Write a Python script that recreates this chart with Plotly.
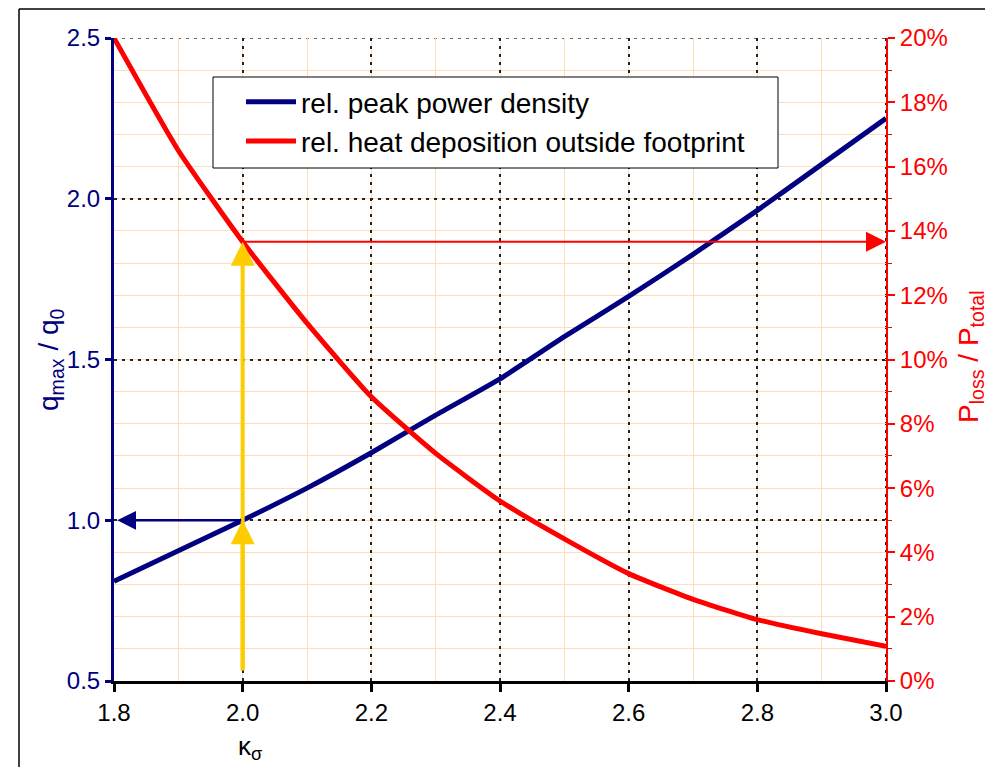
import plotly.graph_objects as go

# ---- data ----
kappa = [1.8, 1.9, 2.0, 2.1, 2.2, 2.3, 2.4, 2.5, 2.6, 2.7, 2.8, 2.9, 3.0]
q_rel = [0.81, 0.905, 1.0, 1.10, 1.21, 1.327, 1.44, 1.571, 1.696, 1.827, 1.964, 2.107, 2.25]
p_loss = [0.200, 0.1650, 0.1366, 0.1113, 0.0884, 0.0708, 0.0560, 0.0442, 0.0334, 0.0254, 0.0191, 0.0147, 0.0108]

name_q = "rel. peak power density"
name_p = "rel. heat deposition outside footprint"
y_ticks_left = [0.5, 1.0, 1.5, 2.0, 2.5]
x_ticks = [1.8, 2.0, 2.2, 2.4, 2.6, 2.8, 3.0]

# construction-line values
kappa_ref = 2.0
q_ref = 1.0
p_ref = 0.1366

NAVY = "#000080"
RED = "#FF0000"
GOLD = "#FFCC00"
MINOR = "#FFDDB8"
GRID = "#222222"
FONT = "Liberation Sans, Arial, sans-serif"

fig = go.Figure()
fig.add_trace(go.Scatter(x=kappa, y=q_rel, name=name_q, mode="lines",
                         line=dict(color=NAVY, width=5, shape="spline", smoothing=0.5)))
fig.add_trace(go.Scatter(x=kappa, y=p_loss, name=name_p, mode="lines", yaxis="y2",
                         line=dict(color=RED, width=5, shape="spline", smoothing=0.5)))

OFF = 8  # page body margin
W, H = 985, 759
L, T = 106, 30
pw, ph = 772, 643
R, B = W - L - pw, H - T - ph


def px(x_page):
    return (x_page - OFF - L) / pw


def py(y_page):
    return (T + ph - (y_page - OFF)) / ph


fig.update_layout(
    width=W, height=H,
    margin=dict(l=L, r=R, t=T, b=B, autoexpand=False),
    paper_bgcolor="white", plot_bgcolor="white",
    font=dict(family=FONT, size=24, color="black"),
    showlegend=True,
    legend=dict(x=px(241), y=py(77), xanchor="left", yanchor="top",
                bgcolor="rgba(0,0,0,0)", borderwidth=0,
                font=dict(size=28, color="black"), itemwidth=50, tracegroupgap=0),
    xaxis=dict(range=[1.8, 3.0], tickvals=x_ticks, tickformat=".1f",
               showline=True, linecolor="black", linewidth=3,
               ticks="outside", ticklen=8, tickwidth=3, tickcolor="black",
               tickfont=dict(size=24, color="black"),
               showgrid=True, gridcolor=GRID, gridwidth=2, griddash="3px,5px",
               minor=dict(dtick=0.1, showgrid=True, gridcolor=MINOR, gridwidth=1, griddash="solid"),
               zeroline=False),
    yaxis=dict(range=[0.5, 2.5], tickvals=y_ticks_left, tickformat=".1f",
               showline=True, linecolor=NAVY, linewidth=3,
               ticks="outside", ticklen=6, tickwidth=3, tickcolor=NAVY,
               tickfont=dict(size=24, color=NAVY),
               showgrid=True, gridcolor=GRID, gridwidth=2, griddash="3px,5px",
               minor=dict(dtick=0.1, showgrid=True, gridcolor=MINOR, gridwidth=1, griddash="solid"),
               zeroline=False),
    yaxis2=dict(range=[0, 0.2], dtick=0.02, tickformat=".0%", overlaying="y", side="right",
                showline=True, linecolor=RED, linewidth=2,
                ticks="outside", ticklen=7, tickwidth=2, tickcolor=RED,
                tickfont=dict(size=24, color=RED),
                minor=dict(dtick=0.01, ticks="outside", ticklen=4, tickcolor=RED, tickwidth=1),
                showgrid=False, zeroline=False),
)

# dotted grid along the top and right edges
fig.add_shape(type="line", xref="x", yref="y", x0=1.8, x1=3.0, y0=2.5, y1=2.5, layer="below",
              line=dict(color="#666666", width=2, dash="3px,5px"))
fig.add_shape(type="line", xref="x", yref="y", x0=3.0, x1=3.0, y0=0.5, y1=2.5, layer="below",
              line=dict(color=GRID, width=2, dash="3px,5px"))

# legend box (drawn as a shape behind the legend entries)
fig.add_shape(type="rect", xref="paper", yref="paper", x0=px(213), x1=px(778), y0=py(168), y1=py(77),
              layer="above", fillcolor="white", line=dict(color="black", width=1))

# construction arrows
fig.add_annotation(x=kappa_ref, y=p_ref, xref="x", yref="y2", ax=kappa_ref, ay=0.0028,
                   axref="x", ayref="y2", text="", showarrow=True, arrowhead=2,
                   arrowsize=1.2, arrowwidth=4, arrowcolor=GOLD, standoff=0)
fig.add_annotation(x=kappa_ref, y=q_ref, xref="x", yref="y", ax=kappa_ref, ay=0.53,
                   axref="x", ayref="y", text="", showarrow=True, arrowhead=2,
                   arrowsize=1.2, arrowwidth=4, arrowcolor=GOLD, standoff=0)
fig.add_annotation(x=1.805, y=q_ref, xref="x", yref="y", ax=kappa_ref, ay=q_ref,
                   axref="x", ayref="y", text="", showarrow=True, arrowhead=2,
                   arrowsize=1.5, arrowwidth=2.5, arrowcolor=NAVY, standoff=0)
fig.add_annotation(x=3.0, y=p_ref, xref="x", yref="y2", ax=kappa_ref, ay=p_ref,
                   axref="x", ayref="y2", text="", showarrow=True, arrowhead=2,
                   arrowsize=2, arrowwidth=2, arrowcolor=RED, standoff=0)

# axis titles
fig.add_annotation(x=px(50), y=py(360), xref="paper", yref="paper",
                   text="q<sub>max</sub> / q<sub>0</sub>", textangle=-90, showarrow=False,
                   font=dict(size=28, color=NAVY), xanchor="center", yanchor="middle")
fig.add_annotation(x=px(970), y=py(357), xref="paper", yref="paper",
                   text="P<sub>loss</sub> / P<sub>total</sub>", textangle=-90, showarrow=False,
                   font=dict(size=28, color=RED), xanchor="center", yanchor="middle")
fig.add_annotation(x=px(250), y=py(747), xref="paper", yref="paper",
                   text="κ<sub>σ</sub>", showarrow=False,
                   font=dict(size=26, color="black"), xanchor="center", yanchor="middle")

# outer frame (left and top edges visible)
fig.add_shape(type="line", xref="paper", yref="paper", x0=px(19), x1=px(1100), y0=py(9), y1=py(9),
              line=dict(color="black", width=1.5))
fig.add_shape(type="line", xref="paper", yref="paper", x0=px(19), x1=px(19), y0=py(9), y1=py(900),
              line=dict(color="black", width=1.5))

fig.write_html("out.html")
